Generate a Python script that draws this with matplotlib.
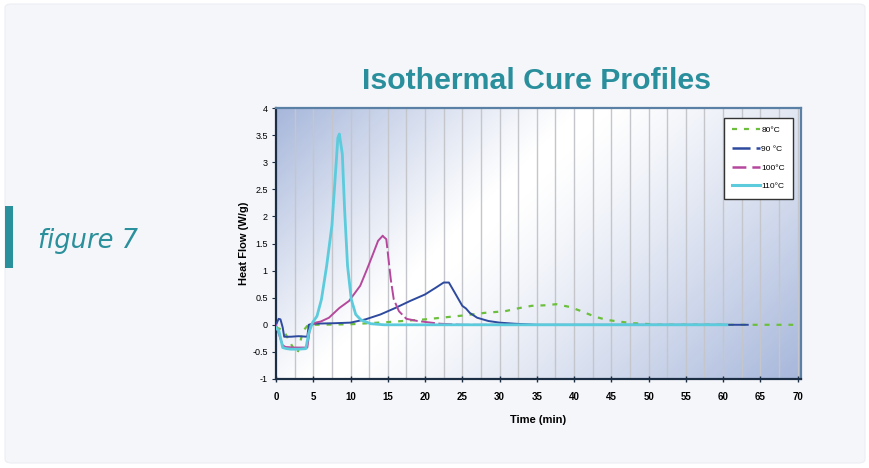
import numpy as np
import matplotlib
matplotlib.use("Agg")
import matplotlib.pyplot as plt
from matplotlib.patches import FancyBboxPatch, Rectangle
from matplotlib.lines import Line2D
from matplotlib.colors import LinearSegmentedColormap

plt.rcParams['font.family'] = ['Liberation Sans', 'DejaVu Sans']
plt.rcParams['lines.scale_dashes'] = False

# ==========================
# Data
# ==========================
t80 = [0, 1.0, 1.8, 2.4, 2.9, 3.2, 3.6, 4.2, 5, 10, 15, 20, 25, 28, 30.7, 32.7, 34.3, 36.1,
       37.6, 39.4, 41, 42.8, 44.4, 46, 47.8, 49.4, 51, 60, 69.4]
v80 = [-0.05, -0.1, -0.3, -0.45, -0.52, -0.35, -0.12, -0.02, 0.0, 0.01, 0.05, 0.1, 0.17, 0.22,
       0.25, 0.31, 0.35, 0.36, 0.38, 0.33, 0.25, 0.15, 0.09, 0.06, 0.03, 0.02, 0.0, 0.0, 0.0]

t90 = [0, 0.35, 0.6, 0.9, 1.1, 2, 3, 4.2, 4.4, 4.9, 8, 10, 12, 14, 16, 18, 20, 21.5, 22.5,
       23.2, 24, 25, 25.5, 26, 27, 28.5, 30, 32, 35, 45, 55, 63.3]
v90 = [0.0, 0.11, 0.1, -0.05, -0.22, -0.22, -0.21, -0.22, 0.0, 0.02, 0.03, 0.04, 0.1, 0.19,
       0.31, 0.44, 0.56, 0.69, 0.78, 0.78, 0.59, 0.35, 0.3, 0.22, 0.13, 0.07, 0.04, 0.02, 0.0,
       0.0, 0.0, 0.0]

t100 = [0, 0.9, 1.3, 2.5, 4.2, 4.6, 5.3, 6, 7.1, 8.5, 9.8, 11.3, 12.2, 13, 13.7, 14.3]
v100 = [-0.01, -0.38, -0.41, -0.42, -0.42, -0.02, 0.04, 0.06, 0.13, 0.31, 0.44, 0.72, 1.02,
        1.3, 1.55, 1.64]
t100_tail = [14.3, 14.8, 15.1, 15.4, 15.8, 16.5, 17.5, 19, 22, 25, 30]
v100_tail = [1.64, 1.58, 1.21, 0.84, 0.47, 0.25, 0.11, 0.07, 0.02, 0.0, 0.0]

t110 = [0, 0.4, 0.9, 1.4, 2, 3, 4.0, 4.4, 4.9, 5.5, 6.1, 6.8, 7.5, 7.9, 8.3, 8.5, 8.9, 9.2,
        9.6, 10.1, 10.7, 11.4, 12.7, 14.5, 20, 30, 40, 50, 60.5]
v110 = [-0.05, -0.12, -0.42, -0.44, -0.45, -0.45, -0.44, -0.15, 0.04, 0.16, 0.47, 1.09, 1.83,
        2.63, 3.45, 3.52, 3.15, 2.14, 1.09, 0.47, 0.19, 0.09, 0.02, 0.0, 0.0, 0.0, 0.0, 0.0, 0.0]

labels = ["80\u00b0C", "90 \u00b0C", "100\u00b0C", "110\u00b0C"]
colors = ["#6cbf3c", "#2e4a9e", "#b5489c", "#5ccbdc"]
x_ticks = list(range(0, 71, 5))
y_ticks = [-1, -0.5, 0, 0.5, 1, 1.5, 2, 2.5, 3, 3.5, 4]

# ==========================
# Figure + card background
# ==========================
W, H = 869, 468
fig = plt.figure(figsize=(W / 100, H / 100), dpi=100)
fig.patch.set_facecolor("white")

card = FancyBboxPatch((5 / W, 5 / H), 860 / W, 459 / H,
                      boxstyle="round,pad=0,rounding_size=0.008",
                      transform=fig.transFigure, facecolor="#f5f6fa",
                      edgecolor="#eceef3", lw=0.8, zorder=-10)
fig.patches.append(card)

fig.patches.append(Rectangle((5 / W, (H - 268) / H), 8 / W, 62 / H,
                             transform=fig.transFigure, facecolor="#2a909b",
                             edgecolor="none", zorder=-5))
fig.text(38 / W, (H - 248) / H, "figure 7", fontsize=18.5, style="italic",
         color="#2a909b", family=["DejaVu Sans"], ha="left", va="baseline")

fig.text(537 / W, (H - 89) / H, "Isothermal Cure Profiles", fontsize=21.8,
         fontweight="bold", color="#2a8f9c", ha="center", va="baseline")

# ==========================
# Axes
# ==========================
ax = fig.add_axes([276 / W, (H - 379) / H, 525 / W, 271 / H])
ax.set_xlim(0, 70.45)
ax.set_ylim(-1, 4)

# diagonal gradient: blue corners, white middle
nx, ny = 300, 160
xx, yy = np.meshgrid(np.linspace(0, 1, nx), np.linspace(1, 0, ny))
s = (xx * 525 + (1 - yy) * 271) / (525 + 271)
tl = np.clip((0.38 - s) / 0.38, 0, 1) ** 1.1
br = np.clip((s - 0.42) / 0.58, 0, 1) ** 1.2
amt = np.maximum(tl, br)
cmap = LinearSegmentedColormap.from_list("g", ["#ffffff", "#a7b7db"])
ax.imshow(amt, cmap=cmap, vmin=0, vmax=1, extent=[0, 1, 0, 1],
          transform=ax.transAxes, aspect="auto", zorder=0, interpolation="bilinear")

for g in np.arange(2.5, 70.1, 2.5):
    ax.axvline(g, color="#c4c6cb", lw=1.0, zorder=1)

ax.plot(t80, v80, color=colors[0], lw=1.6, linestyle=(0, (3.6, 5)), zorder=2)
ax.plot(t90, v90, color=colors[1], lw=1.4, zorder=3)
ax.plot(t100, v100, color=colors[2], lw=1.4, zorder=4)
ax.plot(t100_tail, v100_tail, color=colors[2], lw=1.4, linestyle=(0, (10, 2.5)), zorder=4)
ax.plot(t110, v110, color=colors[3], lw=2.0, zorder=5)

for side in ["left", "bottom"]:
    ax.spines[side].set_color("#1c2e44")
    ax.spines[side].set_linewidth(1.6)
for side in ["top", "right"]:
    ax.spines[side].set_color("#5a80a6")
    ax.spines[side].set_linewidth(1.6)

ax.set_xticks(x_ticks)
ax.set_xticklabels([str(x) for x in x_ticks], fontsize=7, fontweight="bold")
ax.set_yticks(y_ticks)
ax.set_yticklabels(["%g" % y for y in y_ticks], fontsize=6.5)
ax.tick_params(axis="x", direction="inout", length=5, width=1, color="#1c2e44", pad=7)
ax.tick_params(axis="y", direction="out", length=3, width=0.8, color="#1c2e44", pad=3)

ax.set_xlabel("Time (min)", fontsize=8, fontweight="bold", labelpad=9)
ax.set_ylabel("Heat Flow (W/g)", fontsize=8, fontweight="bold", labelpad=2)

handles = [
    Line2D([], [], color=colors[0], lw=1.6, linestyle=(0, (3.6, 5))),
    Line2D([], [], color=colors[1], lw=1.8, linestyle=(0, (13, 4.3))),
    Line2D([], [], color=colors[2], lw=1.8, linestyle=(0, (10, 4.3))),
    Line2D([], [], color=colors[3], lw=2.2),
]
leg = ax.legend(handles, labels, loc="upper right", bbox_to_anchor=(0.985, 0.963),
                borderaxespad=0, fontsize=6, handlelength=3.4, handletextpad=0.1,
                labelspacing=1.3, fancybox=False, framealpha=1, borderpad=1.0)
leg.get_frame().set_edgecolor("#333333")
leg.get_frame().set_linewidth(1.0)
leg.set_zorder(10)

fig.savefig("out.png", dpi=100, facecolor=fig.get_facecolor())
